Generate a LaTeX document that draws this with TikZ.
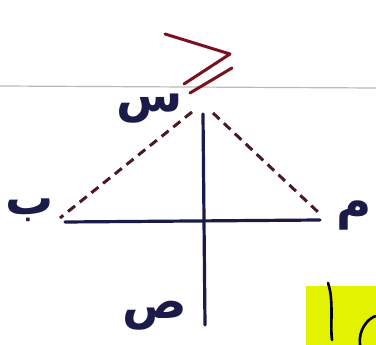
\documentclass[tikz,border=0pt]{standalone}
\usepackage{fontspec}
\usepackage{xcolor}
\usepackage{tikz}
\usetikzlibrary{positioning,calc}
\TeXXeTstate=1
\newfontfamily\arabicfont[Script=Arabic]{DejaVu Sans}
\definecolor{ink}{HTML}{1B1B4A}
\definecolor{dashink}{HTML}{4A1A22}
\definecolor{signred}{HTML}{7A1020}
\definecolor{paperline}{HTML}{B8BDB4}
\definecolor{marker}{HTML}{E2F200}

\begin{document}
\begin{tikzpicture}[
  x=1pt,y=-1pt,
  axis/.style={draw=ink,line width=3.2pt,line cap=round},
  guide/.style={draw=dashink,line width=3pt,dash pattern=on 9pt off 6pt},
  letter/.style={font=\arabicfont\bfseries\fontsize{48}{48}\selectfont,text=ink,inner sep=0pt},
  sign/.style={draw=signred,line width=3pt,line cap=round,line join=round}
]
\useasboundingbox (0,0) rectangle (376,345);
\fill[white] (0,0) rectangle (376,345);
\fill[marker] (306,286) rectangle (376,345);

% paper ruling
\coordinate (ruleL) at (0,86);
\coordinate (ruleR) at (376,88);
\draw[paperline,line width=1.2pt] (ruleL) -- (ruleR);

% axes
\coordinate (west) at (65,222);
\coordinate (east) at (320,220);
\coordinate (top) at (203,114);
\coordinate (bottom) at (205,325);
\draw[axis] (west) -- (east);
\draw[axis] (top) -- (bottom);

% dashed sides
\coordinate (apexL) at (192,112);
\coordinate (apexR) at (213,113);
\coordinate (footL) at (60,218);
\coordinate (footR) at (318,212);
\draw[guide] (apexL) -- (footL);
\draw[guide] (apexR) -- (footR);

% relation sign
\coordinate (gA) at (165,34);
\coordinate (gB) at (230,54);
\coordinate (gC) at (184,84);
\coordinate (gD) at (190,93);
\coordinate (gE) at (232,68);
\draw[sign] (gA) -- (gB) -- (gC);
\draw[sign] (gD) -- (gE);

% letters
\node[letter] (sin) at (150,109) {\beginR س\endR};
\node[letter] (ba) at (30,210) {\beginR ب\endR};
\node[letter] (mim) at (354,216) {\beginR م\endR};
\node[letter] (sad) at (155,316) {\beginR ص\endR};

% next word on the page
\coordinate (hookTop) at (328,283);
\coordinate (hookBot) at (332,340);
\draw[axis,line width=2.6pt,draw=black] (hookTop) .. controls (334,300) and (330,325) .. (hookBot);
\draw[axis,line width=2.6pt,draw=black] (360,345) .. controls (358,330) and (368,318) .. (376,316);
\end{tikzpicture}
\end{document}
